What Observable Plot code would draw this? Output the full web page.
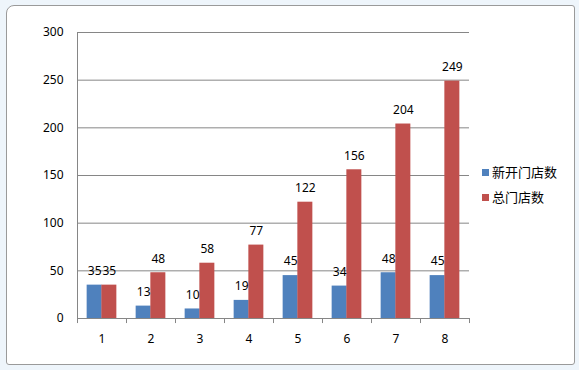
<!DOCTYPE html>
<html><head><meta charset="utf-8">
<script src="https://cdn.jsdelivr.net/npm/d3@7"></script>
<script src="https://cdn.jsdelivr.net/npm/@observablehq/plot@0.6"></script>
<style>
html,body{margin:0;padding:0;background:#fff;}
#wrap{position:relative;width:579px;height:370px;overflow:hidden;background:#eef5fb;}
#frame{position:absolute;left:6px;top:5px;width:567px;height:358px;border:1px solid #9a9a9a;border-radius:8px 3px 3px 3px;background:#fff;}
#chart{position:absolute;left:0;top:0;}
#legend{position:absolute;left:482px;top:163px;font-family:"Noto Sans CJK SC","Noto Sans",sans-serif;font-size:13px;color:#000;}
#legend div{height:25px;line-height:17px;white-space:nowrap;}
#legend span.sw{display:inline-block;width:7px;height:7px;margin-right:3px;vertical-align:middle;position:relative;top:-1px;}
</style></head>
<body>
<div id="wrap"><div id="frame"></div><div id="chart"></div><div id="legend"></div></div>
<script>
const categories = ["1","2","3","4","5","6","7","8"];
const seriesNames = ["新开门店数","总门店数"];
const newStores = [35,13,10,19,45,34,48,45];
const totalStores = [35,48,58,77,122,156,204,249];
const yTicks = [0,50,100,150,200,250,300];
const colors = ["#4F81BD","#C0504D"];

const data = [];
categories.forEach((c,i)=>{
  data.push({cat:c, series:seriesNames[0], value:newStores[i]});
  data.push({cat:c, series:seriesNames[1], value:totalStores[i]});
});
const boundaries = categories.map(c=>({cat:c, side:-1})).concat([{cat:categories[categories.length-1], side:1}]);
const half = 24.5;
const barOffset = 7.35;
const font = "'Noto Sans', 'DejaVu Sans', sans-serif";
const fs = 12;

const plot = Plot.plot({
  width:579, height:370,
  marginLeft:77, marginRight:110, marginTop:32, marginBottom:52,
  style:{background:"transparent", fontFamily:font, fontSize:fs+"px", color:"#000"},
  x:{domain:categories, paddingInner:0.7, paddingOuter:0.35, axis:null},
  y:{domain:[0,300], axis:null},
  color:{domain:seriesNames, range:colors},
  marks:[
    Plot.ruleY(yTicks.filter(d=>d>0), {y:d=>d, stroke:"#868686", strokeWidth:1}),
    Plot.barY(data.filter(d=>d.series===seriesNames[0]), {x:"cat", y:"value", fill:colors[0], dx:-barOffset}),
    Plot.barY(data.filter(d=>d.series===seriesNames[1]), {x:"cat", y:"value", fill:colors[1], dx:barOffset}),
    Plot.text(data.filter(d=>d.series===seriesNames[0]), {x:"cat", y:"value", text:d=>String(d.value), dx:-barOffset, dy:-14, fontSize:fs, fill:"#000"}),
    Plot.text(data.filter(d=>d.series===seriesNames[1]), {x:"cat", y:"value", text:d=>String(d.value), dx:barOffset, dy:-14, fontSize:fs, fill:"#000"}),
    Plot.ruleY([0], {stroke:"#868686"}),
    Plot.ruleX([0], {x:()=>categories[0], dx:-half, y1:0, y2:300, stroke:"#868686"}),
    Plot.ruleX(boundaries, {x:"cat", y1:0, y2:-5.3, stroke:"#868686", render:(index, scales, values, dims, ctx, next)=>{
      const g = next(index, scales, values, dims, ctx);
      d3.select(g).selectAll("line").attr("transform", (_,j)=>`translate(${boundaries[index[j]].side*half},0)`);
      return g;
    }}),
    Plot.tickY(yTicks, {y:d=>d, x:()=>categories[0], stroke:"#868686", render:(index, scales, values, dims, ctx, next)=>{
      const g = next(index, scales, values, dims, ctx);
      const xl = scales.x(categories[0]) + scales.x.bandwidth/2 - half;
      d3.select(g).selectAll("line").attr("x1", xl-5).attr("x2", xl);
      return g;
    }}),
    Plot.text(yTicks, {y:d=>d, x:()=>categories[0], text:d=>String(d), dx:-half-14, textAnchor:"end", fontSize:fs, fill:"#000"}),
    Plot.text(categories, {x:d=>d, y:0, text:d=>d, dy:21, fontSize:fs, fill:"#000"})
  ]
});
document.getElementById("chart").appendChild(plot);

const lg = document.getElementById("legend");
seriesNames.forEach((n,i)=>{
  const row = document.createElement("div");
  const sw = document.createElement("span"); sw.className="sw"; sw.style.background=colors[i];
  row.appendChild(sw);
  row.appendChild(document.createTextNode(n));
  lg.appendChild(row);
});
</script>
</body></html>
